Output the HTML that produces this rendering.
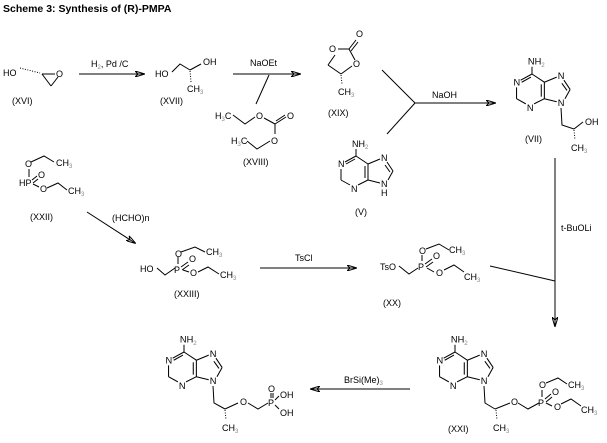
<!DOCTYPE html>
<html><head><meta charset="utf-8"><style>
html,body{margin:0;padding:0;background:#fff;}
svg{display:block;}
text{font-family:"Liberation Sans",sans-serif;font-size:9px;fill:#000;}
.t{font-weight:bold;font-size:10.5px;}
line,polyline,path{stroke:#000;stroke-width:1;fill:none;}
.s{font-size:6px;fill:#888;}
</style></head><body>
<svg width="607" height="443" viewBox="0 0 607 443" xmlns="http://www.w3.org/2000/svg">
<defs>
<marker id="ah" markerWidth="10" markerHeight="6" refX="9" refY="3" orient="auto" markerUnits="userSpaceOnUse">
<path d="M0,0 L10,3 L0,6 L3,3 Z" fill="#000" stroke="none"/>
</marker>
</defs>

<text x="3" y="12" class="t">Scheme 3: Synthesis of (R)-PMPA</text>

<!-- XVI -->
<text x="3" y="76">HO</text>
<line x1="20" y1="68" x2="40" y2="73" stroke-dasharray="1,1.5"/>
<line x1="42" y1="74" x2="55" y2="74"/><line x1="42" y1="74" x2="51" y2="86"/><line x1="51" y1="86" x2="58" y2="77"/>
<text x="56" y="77">O</text>
<text x="12" y="104">(XVI)</text>

<line x1="79" y1="74" x2="144" y2="74" marker-end="url(#ah)"/>
<text x="91" y="67">H<tspan class="s" dy="2">2</tspan><tspan dy="-2">, Pd /C</tspan></text>

<!-- XVII -->
<text x="155" y="77">HO</text>
<polyline points="172,72 180,64 190,70"/>
<line x1="190" y1="70" x2="201" y2="64"/>
<text x="203" y="65">OH</text>
<line x1="190" y1="71" x2="191" y2="82" stroke-dasharray="1,1.5" stroke-width="2"/>
<text x="187" y="92">CH<tspan class="s" dy="2">3</tspan></text>
<text x="160" y="104">(XVII)</text>

<line x1="233" y1="74" x2="300" y2="74" marker-end="url(#ah)"/>
<text x="250" y="66">NaOEt</text>
<line x1="269" y1="75" x2="256" y2="104"/>

<!-- XVIII -->
<text x="215" y="119">H<tspan class="s" dy="2">3</tspan><tspan dy="-2">C</tspan></text>
<polyline points="233,115 245,124 255,117"/>
<text x="256" y="119">O</text>
<line x1="264" y1="118" x2="275" y2="124"/>
<line x1="275" y1="124" x2="286" y2="117"/><line x1="276" y1="121" x2="285" y2="115"/>
<text x="287" y="119">O</text>
<line x1="275" y1="124" x2="275" y2="134"/>
<text x="271" y="144">O</text>
<polyline points="270,141 257,149 247,141"/>
<text x="231" y="144">H<tspan class="s" dy="2">3</tspan><tspan dy="-2">C</tspan></text>
<text x="243" y="165">(XVIII)</text>

<!-- XIX -->
<text x="356" y="37">O</text>
<text x="329" y="52">O</text>
<text x="353" y="67">O</text>
<line x1="338" y1="49" x2="349" y2="49"/>
<line x1="349" y1="49" x2="356" y2="40"/><line x1="351" y1="51" x2="358" y2="42"/>
<line x1="349" y1="49" x2="355" y2="60"/>
<line x1="335" y1="55" x2="328" y2="65"/><line x1="328" y1="65" x2="341" y2="74"/><line x1="341" y1="74" x2="352" y2="66"/>
<line x1="341" y1="75" x2="342" y2="84" stroke-dasharray="1,1.5" stroke-width="2"/>
<text x="338" y="95">CH<tspan class="s" dy="2">3</tspan></text>
<text x="328" y="116">(XIX)</text>

<line x1="382" y1="70" x2="415" y2="103"/>
<line x1="387" y1="134" x2="415" y2="103"/>
<line x1="415" y1="103" x2="495" y2="103" marker-end="url(#ah)"/>
<text x="432" y="98">NaOH</text>

<!-- V -->
<g transform="translate(356,156)">
<line x1="0" y1="0" x2="-11" y2="6"/><line x1="-1" y1="3" x2="-10" y2="8"/>
<line x1="-15" y1="13" x2="-15" y2="24"/>
<line x1="-15" y1="24" x2="-6" y2="29"/>
<line x1="2" y1="29" x2="12" y2="24"/>
<line x1="12" y1="24" x2="12" y2="8"/><line x1="9" y1="22" x2="9" y2="10"/>
<line x1="12" y1="8" x2="0" y2="0"/>
<line x1="12" y1="8" x2="24" y2="3"/>
<line x1="31" y1="6" x2="37" y2="15"/><line x1="29" y1="9" x2="34" y2="16"/>
<line x1="37" y1="15" x2="32" y2="24"/>
<line x1="24" y1="27" x2="12" y2="24"/>
<line x1="0" y1="0" x2="0" y2="-7"/>
<text x="-4" y="-9">NH<tspan class="s" dy="2">2</tspan></text>
<text x="-18" y="11">N</text>
<text x="-5" y="36">N</text>
<text x="25" y="5">N</text>
<text x="25" y="31">N</text>
<text x="25" y="40">H</text>
</g>
<text x="355" y="215">(V)</text>

<!-- VII -->
<g transform="translate(532,74) scale(1.03)">
<line x1="0" y1="0" x2="-11" y2="6"/><line x1="-1" y1="3" x2="-10" y2="8"/>
<line x1="-15" y1="13" x2="-15" y2="24"/>
<line x1="-15" y1="24" x2="-6" y2="29"/>
<line x1="2" y1="29" x2="12" y2="24"/>
<line x1="12" y1="24" x2="12" y2="8"/><line x1="9" y1="22" x2="9" y2="10"/>
<line x1="12" y1="8" x2="0" y2="0"/>
<line x1="12" y1="8" x2="24" y2="3"/>
<line x1="31" y1="6" x2="37" y2="15"/><line x1="29" y1="9" x2="34" y2="16"/>
<line x1="37" y1="15" x2="32" y2="24"/>
<line x1="24" y1="27" x2="12" y2="24"/>
<line x1="0" y1="0" x2="0" y2="-7"/>
<text x="-4" y="-9">NH<tspan class="s" dy="2">2</tspan></text>
<text x="-18" y="11">N</text>
<text x="-5" y="36">N</text>
<text x="25" y="5">N</text>
<text x="25" y="31">N</text>
</g>
<polyline points="561,108 562,125 574,129"/>
<line x1="574" y1="129" x2="583" y2="122"/>
<text x="585" y="125">OH</text>
<line x1="574" y1="130" x2="575" y2="140" stroke-dasharray="1,1.5" stroke-width="2"/>
<text x="571" y="151">CH<tspan class="s" dy="2">3</tspan></text>
<text x="525" y="142">(VII)</text>

<line x1="555" y1="158" x2="555" y2="326" marker-end="url(#ah)"/>
<text x="561" y="231">t-BuOLi</text>
<line x1="490" y1="266" x2="555" y2="281"/>

<!-- XXII -->
<text x="25" y="167">O</text>
<polyline points="31,162 44,156 54,162"/>
<text x="56" y="166">CH<tspan class="s" dy="2">3</tspan></text>
<line x1="29" y1="169" x2="29" y2="177"/>
<text x="19" y="186">HP</text>
<text x="38" y="178">O</text>
<line x1="32" y1="180" x2="37" y2="176"/><line x1="33" y1="183" x2="38" y2="179"/>
<text x="40" y="192">O</text>
<line x1="33" y1="184" x2="39" y2="187"/>
<polyline points="47,188 58,183 67,190"/>
<text x="68" y="194">CH<tspan class="s" dy="2">3</tspan></text>
<text x="30" y="220">(XXII)</text>

<line x1="87" y1="212" x2="135" y2="243" marker-end="url(#ah)"/>
<text x="112" y="221">(HCHO)n</text>

<!-- XXIII -->
<text x="140" y="272">HO</text>
<polyline points="157,268 165,275 175,268"/>
<text x="174" y="273">P</text>
<line x1="178" y1="264" x2="178" y2="257"/>
<text x="175" y="257">O</text>
<polyline points="181,252 195,247 205,252"/>
<text x="206" y="255">CH<tspan class="s" dy="2">3</tspan></text>
<text x="189" y="262">O</text>
<line x1="181" y1="267" x2="188" y2="262"/><line x1="182" y1="270" x2="189" y2="265"/>
<text x="190" y="276">O</text>
<line x1="183" y1="270" x2="189" y2="272"/>
<polyline points="198,272 208,267 219,274"/>
<text x="220" y="278">CH<tspan class="s" dy="2">3</tspan></text>
<text x="174" y="297">(XXIII)</text>

<line x1="260" y1="268" x2="356" y2="268" marker-end="url(#ah)"/>
<text x="295" y="261">TsCl</text>

<!-- XX -->
<text x="380" y="270">TsO</text>
<polyline points="399,266 409,274 418,268"/>
<text x="418" y="270">P</text>
<line x1="422" y1="261" x2="422" y2="255"/>
<text x="419" y="254">O</text>
<polyline points="426,249 439,244 449,250"/>
<text x="449" y="253">CH<tspan class="s" dy="2">3</tspan></text>
<text x="433" y="259">O</text>
<line x1="425" y1="264" x2="432" y2="259"/><line x1="426" y1="267" x2="433" y2="262"/>
<text x="436" y="276">O</text>
<line x1="427" y1="268" x2="434" y2="272"/>
<polyline points="444,270 454,265 464,272"/>
<text x="464" y="280">CH<tspan class="s" dy="2">3</tspan></text>
<text x="383" y="306">(XX)</text>

<!-- XXI -->
<g transform="translate(455,352) scale(1.03)">
<line x1="0" y1="0" x2="-11" y2="6"/><line x1="-1" y1="3" x2="-10" y2="8"/>
<line x1="-15" y1="13" x2="-15" y2="24"/>
<line x1="-15" y1="24" x2="-6" y2="29"/>
<line x1="2" y1="29" x2="12" y2="24"/>
<line x1="12" y1="24" x2="12" y2="8"/><line x1="9" y1="22" x2="9" y2="10"/>
<line x1="12" y1="8" x2="0" y2="0"/>
<line x1="12" y1="8" x2="24" y2="3"/>
<line x1="31" y1="6" x2="37" y2="15"/><line x1="29" y1="9" x2="34" y2="16"/>
<line x1="37" y1="15" x2="32" y2="24"/>
<line x1="24" y1="27" x2="12" y2="24"/>
<line x1="0" y1="0" x2="0" y2="-7"/>
<text x="-4" y="-9">NH<tspan class="s" dy="2">2</tspan></text>
<text x="-18" y="11">N</text>
<text x="-5" y="36">N</text>
<text x="25" y="5">N</text>
<text x="25" y="31">N</text>
</g>
<polyline points="484,386 485,403 495,409"/>
<line x1="495" y1="409" x2="510" y2="403"/>
<text x="511" y="405">O</text>
<polyline points="518,403 528,409 539,403"/>
<text x="538" y="406">P</text>
<line x1="542" y1="397" x2="542" y2="390"/>
<text x="539" y="388">O</text>
<polyline points="546,383 558,378 567,384"/>
<text x="568" y="388">CH<tspan class="s" dy="2">3</tspan></text>
<text x="552" y="395">O</text>
<line x1="545" y1="399" x2="551" y2="394"/><line x1="546" y1="402" x2="552" y2="397"/>
<text x="554" y="410">O</text>
<line x1="546" y1="403" x2="552" y2="406"/>
<polyline points="561,404 571,399 581,406"/>
<text x="581" y="413">CH<tspan class="s" dy="2">3</tspan></text>
<line x1="496" y1="410" x2="497" y2="420" stroke-dasharray="1,1.5" stroke-width="2"/>
<text x="493" y="431">CH<tspan class="s" dy="2">3</tspan></text>
<text x="448" y="432">(XXI)</text>

<line x1="410" y1="389" x2="311" y2="389" marker-end="url(#ah)"/>
<text x="344" y="383">BrSi(Me)<tspan class="s" dy="2">3</tspan></text>

<!-- PMPA -->
<g transform="translate(184,352) scale(1.03)">
<line x1="0" y1="0" x2="-11" y2="6"/><line x1="-1" y1="3" x2="-10" y2="8"/>
<line x1="-15" y1="13" x2="-15" y2="24"/>
<line x1="-15" y1="24" x2="-6" y2="29"/>
<line x1="2" y1="29" x2="12" y2="24"/>
<line x1="12" y1="24" x2="12" y2="8"/><line x1="9" y1="22" x2="9" y2="10"/>
<line x1="12" y1="8" x2="0" y2="0"/>
<line x1="12" y1="8" x2="24" y2="3"/>
<line x1="31" y1="6" x2="37" y2="15"/><line x1="29" y1="9" x2="34" y2="16"/>
<line x1="37" y1="15" x2="32" y2="24"/>
<line x1="24" y1="27" x2="12" y2="24"/>
<line x1="0" y1="0" x2="0" y2="-7"/>
<text x="-4" y="-9">NH<tspan class="s" dy="2">2</tspan></text>
<text x="-18" y="11">N</text>
<text x="-5" y="36">N</text>
<text x="25" y="5">N</text>
<text x="25" y="31">N</text>
</g>
<polyline points="213,386 214,403 225,409"/>
<line x1="225" y1="409" x2="238" y2="403"/>
<text x="240" y="405">O</text>
<polyline points="248,403 258,409 268,403"/>
<text x="268" y="406">P</text>
<line x1="271" y1="398" x2="271" y2="393"/><line x1="273" y1="398" x2="273" y2="393"/>
<text x="268" y="392">O</text>
<text x="280" y="398">OH</text>
<text x="280" y="416">OH</text>
<line x1="275" y1="400" x2="279" y2="396"/><line x1="275" y1="405" x2="279" y2="409"/>
<line x1="225" y1="410" x2="226" y2="420" stroke-dasharray="1,1.5" stroke-width="2"/>
<text x="222" y="431">CH<tspan class="s" dy="2">3</tspan></text>
</svg>
</body></html>
